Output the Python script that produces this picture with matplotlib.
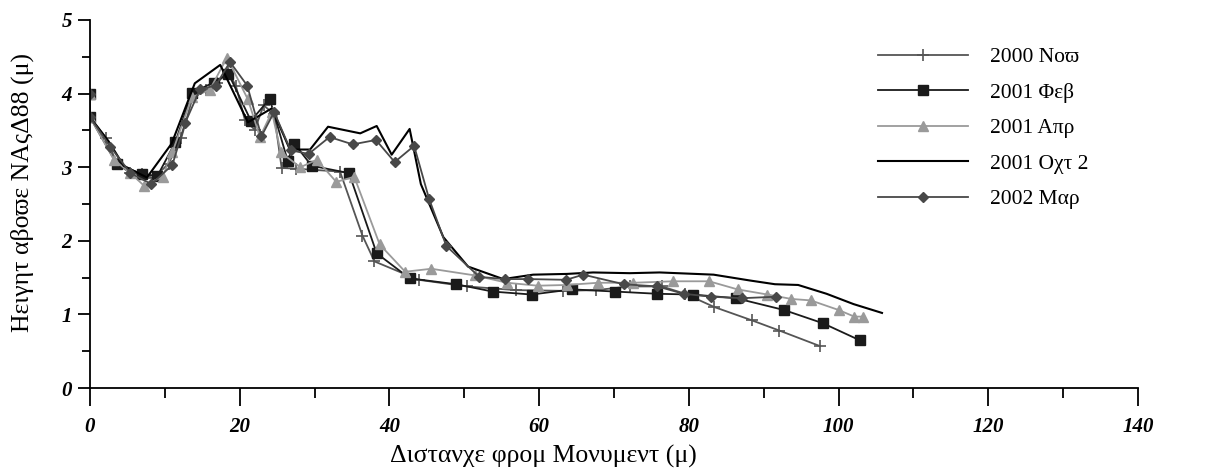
import numpy as np
from matplotlib import pyplot as plt
from matplotlib.ticker import MultipleLocator

# beach profile surveys, distance from monument (m) vs height (m)
labels = ['2000 Νοϖ', '2001 Φεβ', '2001 Απρ', '2001 Οχτ 2', '2002 Μαρ']

dist_a = [0, 0, 2.2, 3.6, 5.4, 6.9, 8.5, 10.5, 12.2, 13.8, 15.5, 17.0, 18.5, 19.5, 20.7, 22.0, 23.2, 24.6,
          25.6, 27.5, 33.4, 36.4, 38.0, 43.9, 50.3, 56.9, 63.2, 67.6, 72.1, 76.4, 79.5, 83.4, 88.4, 92.1, 97.5]
height_a = [4.0, 3.68, 3.39, 3.05, 2.92, 2.91, 2.85, 3.05, 3.40, 3.98, 4.05, 4.15, 4.30, 4.10, 3.64, 3.51, 3.84, 3.72,
            2.99, 2.98, 2.94, 2.07, 1.72, 1.47, 1.38, 1.33, 1.32, 1.33, 1.38, 1.38, 1.28, 1.10, 0.92, 0.78, 0.57]

dist_b = [0, 0, 3.6, 6.9, 9.0, 11.4, 13.6, 16.5, 18.5, 21.5, 24.0, 26.4, 27.3, 29.6, 34.6, 38.3, 42.7, 48.9,
          53.8, 59.0, 64.4, 70.2, 75.8, 80.5, 86.3, 92.7, 97.9, 102.8]
height_b = [4.0, 3.68, 3.04, 2.91, 2.88, 3.34, 4.01, 4.15, 4.27, 3.63, 3.93, 3.09, 3.32, 3.02, 2.92, 1.83, 1.49, 1.41,
            1.31, 1.27, 1.34, 1.31, 1.28, 1.27, 1.22, 1.06, 0.88, 0.65]

dist_c = [0, 0, 3.2, 5.4, 7.2, 9.7, 11.0, 13.6, 16.0, 18.3, 21.1, 22.7, 24.3, 25.5, 28.1, 30.3, 32.9, 35.3, 38.7,
          42.1, 45.6, 51.4, 55.7, 59.8, 63.7, 67.9, 72.6, 77.9, 82.7, 86.5, 90.5, 93.7, 96.3, 100.0, 102.1, 103.3]
height_c = [4.0, 3.68, 3.10, 2.92, 2.75, 2.87, 3.20, 3.95, 4.05, 4.49, 3.92, 3.41, 3.75, 3.20, 3.00, 3.10, 2.80, 2.87, 1.95,
            1.58, 1.62, 1.53, 1.43, 1.39, 1.40, 1.43, 1.43, 1.45, 1.45, 1.34, 1.27, 1.21, 1.19, 1.06, 0.97, 0.97]

dist_d = [0, 2.5, 4.5, 7.6, 10.9, 14.0, 17.4, 21.1, 24.3, 26.7, 29.4, 31.8, 36.1, 38.3, 40.3, 42.7, 44.2, 47.2,
          50.5, 55.2, 59.2, 63.7, 67.2, 72.1, 76.1, 83.3, 88.2, 91.5, 94.6, 98.4, 102.0, 105.8]
height_d = [3.68, 3.35, 3.02, 2.86, 3.32, 4.14, 4.39, 3.61, 3.80, 3.24, 3.24, 3.55, 3.46, 3.56, 3.17, 3.52, 2.77, 2.05,
            1.65, 1.48, 1.54, 1.55, 1.57, 1.56, 1.57, 1.54, 1.46, 1.41, 1.40, 1.28, 1.14, 1.02]

dist_e = [0, 0, 2.7, 5.4, 8.2, 11.0, 12.7, 14.7, 16.8, 18.7, 21.0, 22.9, 24.6, 26.8, 29.2, 32.0, 35.1, 38.2, 40.7,
          43.3, 45.3, 47.6, 52.0, 55.4, 58.5, 63.6, 65.9, 71.3, 75.8, 79.3, 83.0, 87.1, 91.6]
height_e = [4.0, 3.68, 3.28, 2.92, 2.77, 3.03, 3.60, 4.06, 4.11, 4.43, 4.11, 3.42, 3.75, 3.23, 3.18, 3.41, 3.31, 3.37, 3.07,
            3.29, 2.57, 1.93, 1.51, 1.48, 1.48, 1.47, 1.54, 1.41, 1.38, 1.28, 1.24, 1.22, 1.24]

plt.rcParams['font.family'] = ['Liberation Serif', 'DejaVu Serif']

fig = plt.figure(figsize=(12.15, 4.76), dpi=100)
ax = fig.add_axes([90/1215, 1 - 388/476, (1138 - 90)/1215, (388 - 20)/476])

lw = 1.3
ax.plot(dist_a, height_a, color='#555555', lw=lw, marker='+', ms=9, mew=1.2, label=labels[0])
ax.plot(dist_b, height_b, color='#1a1a1a', lw=lw, marker='s', ms=6.5, label=labels[1])
ax.plot(dist_c, height_c, color='#9a9a9a', lw=lw, marker='^', ms=7, label=labels[2])
ax.plot(dist_d, height_d, color='#000000', lw=lw + 0.2, label=labels[3])
ax.plot(dist_e, height_e, color='#484848', lw=lw, marker='D', ms=5.5, label=labels[4])

ax.set_xlim(0, 140)
ax.set_ylim(0, 5)
ax.xaxis.set_major_locator(MultipleLocator(20))
ax.xaxis.set_minor_locator(MultipleLocator(10))
ax.yaxis.set_major_locator(MultipleLocator(1))
ax.yaxis.set_minor_locator(MultipleLocator(0.5))
for side in ['top', 'right']:
    ax.spines[side].set_visible(False)
for side in ['left', 'bottom']:
    ax.spines[side].set_linewidth(1.3)

ax.tick_params(axis='x', which='major', direction='out', length=13, width=1.3, pad=8)
ax.tick_params(axis='x', which='minor', direction='out', length=7, width=1.3)
ax.tick_params(axis='y', which='major', direction='out', length=9, width=1.3, pad=4)
ax.tick_params(axis='y', which='minor', direction='out', length=6, width=1.3)
for lab in ax.get_xticklabels() + ax.get_yticklabels():
    lab.set_fontsize(15)
    lab.set_fontstyle('italic')
    lab.set_fontweight('bold')

fig.text(543/1215, 1 - 456/476, 'Διστανχε φρομ Μονυμεντ (μ)', fontsize=18.5, ha='center', va='center')
fig.text(22/1215, 1 - 192/476, 'Ηειγητ αβοϖε ΝΑςΔ88 (μ)', fontsize=18.5, ha='center', va='center', rotation=90)

ax.legend(loc='upper left', bbox_to_anchor=(878/1215, 1 - 47/476), bbox_transform=fig.transFigure,
          frameon=False, fontsize=15.5, handlelength=4.2, handletextpad=1.0, labelspacing=0.72,
          borderpad=0, borderaxespad=0)

fig.savefig('out.png', dpi=100)
